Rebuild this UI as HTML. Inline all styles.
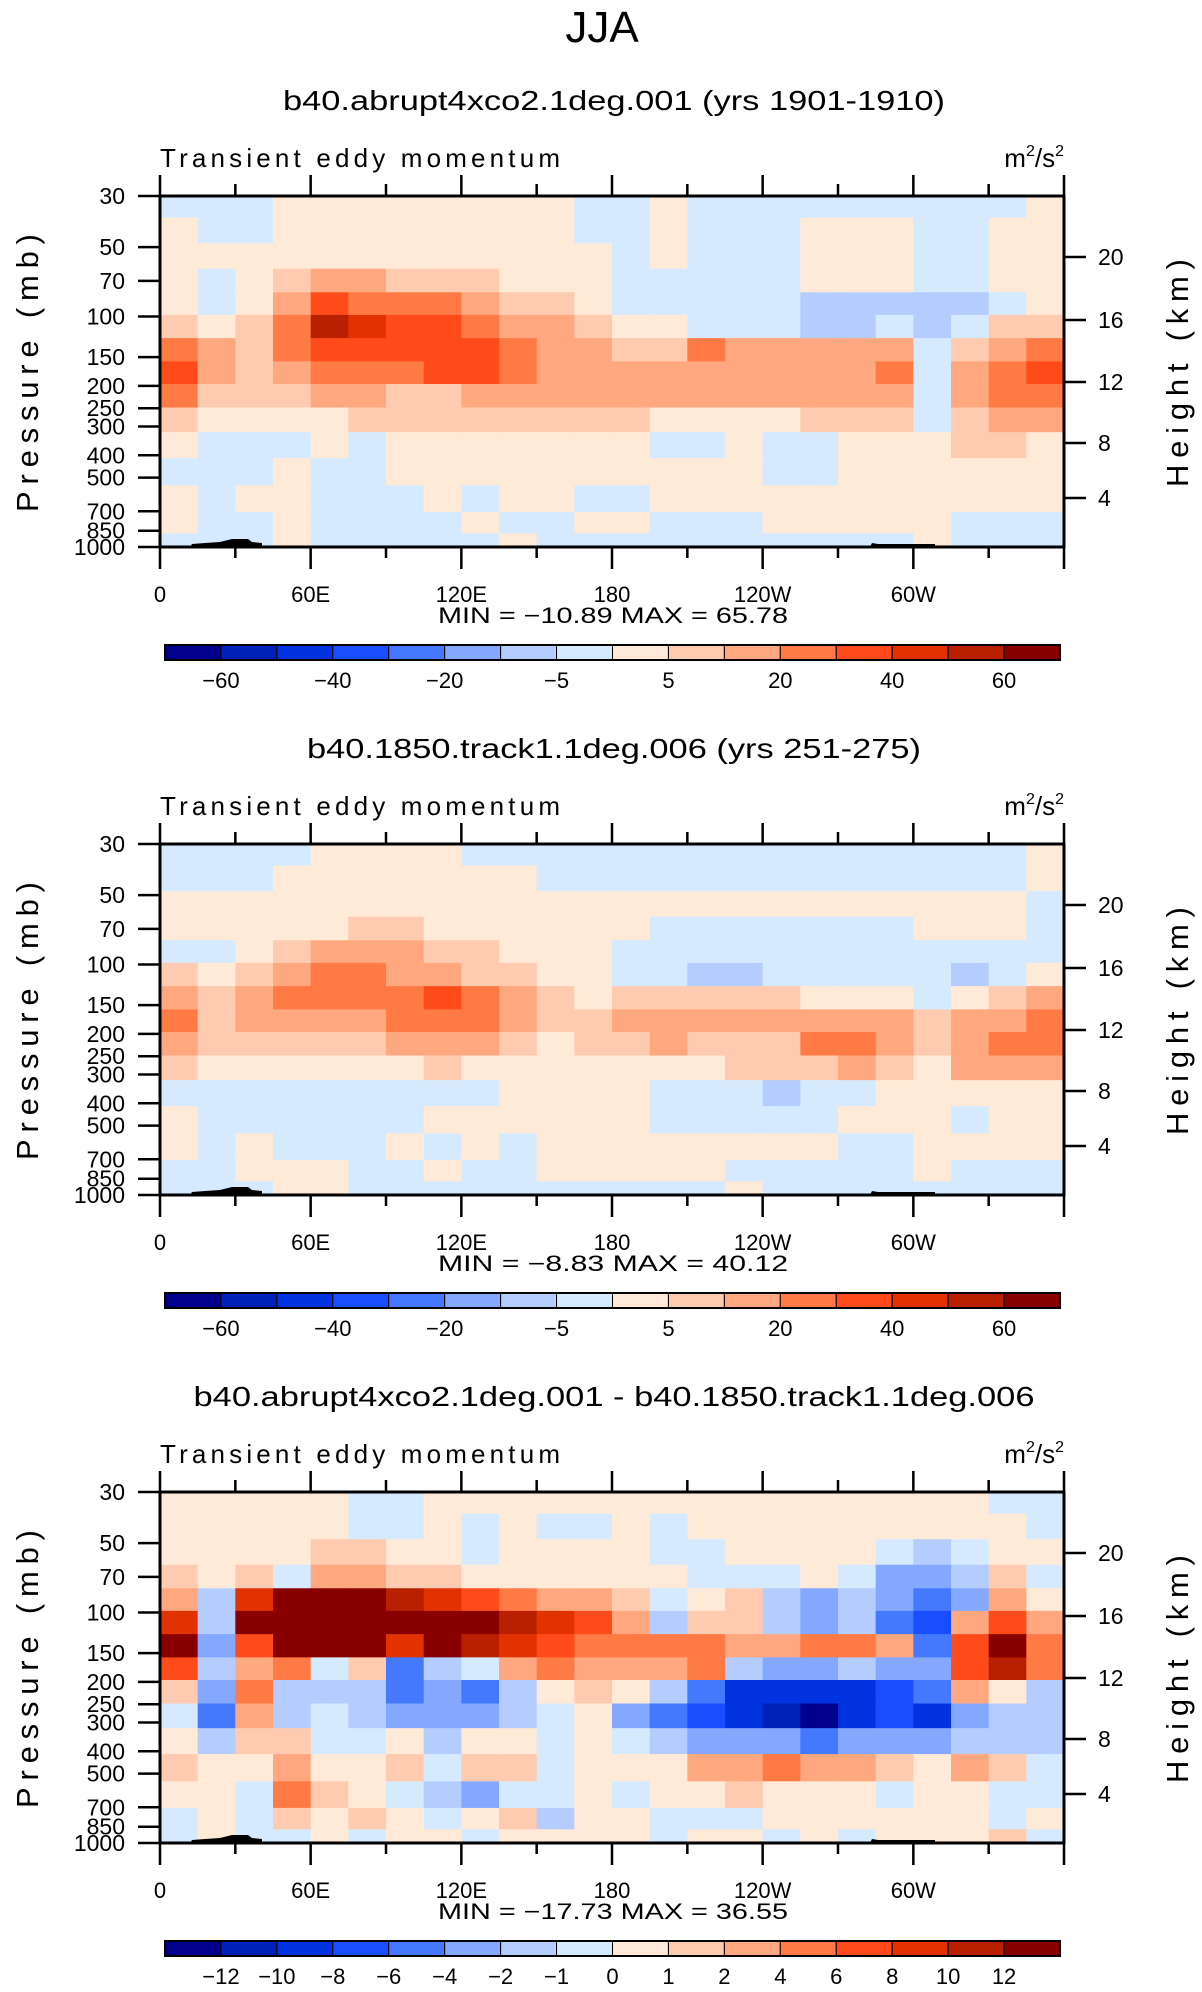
<!DOCTYPE html>
<html><head><meta charset="utf-8"><style>
html,body{margin:0;padding:0;background:#fff;}
svg text{font-family:"Liberation Sans",sans-serif;fill:#000;}
</style></head><body>
<svg id="chart" width="1202" height="1987" viewBox="0 0 1202 1987" xmlns="http://www.w3.org/2000/svg">
<text x="602" y="42" font-size="44" text-anchor="middle" font-weight="300">JJA</text>
</svg>
<script>
const lonCenters=[7.5,22.5,37.5,52.5,67.5,82.5,97.5,112.5,127.5,142.5,157.5,172.5,187.5,202.5,217.5,232.5,247.5,262.5,277.5,292.5,307.5,322.5,337.5,352.5];
const presLevels=[33,42,55,70,88,110,140,175,220,280,360,470,620,800,950];
const pressureTicks=[30,50,70,100,150,200,250,300,400,500,700,850,1000];
const lonTicks=[0,60,120,180,240,300];
const lonTickLabels=["0","60E","120E","180","120W","60W"];
const heightTickLabels=["20","16","12","8","4"];
const levelsAbs=[-60,-50,-40,-30,-20,-10,-5,0,5,10,20,30,40,50,60];
const labelsAbs=["","-60","","-40","","-20","","-5","","5","","20","","40","","60",""];
const levelsDiff=[-12,-10,-8,-6,-4,-2,-1,0,1,2,4,6,8,10,12];
const labelsDiff=["","-12","-10","-8","-6","-4","-2","-1","0","1","2","4","6","8","10","12",""];
const colors=["#00008c","#0021b8","#0033e0","#1a4dff","#4479ff","#84a8ff","#b4ccff","#d6eaff","#ffead8","#ffcbb0","#ffa880","#ff7a45","#ff4b1a","#e23200","#b82000","#880000"];

const data1=[
[-2,-2,-2,2,2,2,2,2,2,2,2,-2,-2,2,-2,-2,-2,-2,-2,-2,-2,-2,-2,2],
[2,-2,-2,2,2,2,2,2,2,2,2,-2,-2,2,-2,-2,-2,2,2,2,-2,-2,2,2],
[2,2,2,2,2,2,2,2,2,2,2,2,-2,2,-2,-2,-2,2,2,2,-2,-2,2,2],
[2,-2,2,7,15,15,7,7,7,2,2,2,-2,-2,-2,-2,-2,2,2,2,-2,-2,2,2],
[2,-2,2,15,35,25,25,25,15,7,7,2,-2,-2,-2,-2,-2,-7,-7,-7,-7,-7,-2,2],
[7,2,7,25,55,45,35,35,25,15,15,7,2,2,-2,-2,-2,-7,-7,-2,-7,-2,7,7],
[25,15,7,25,35,35,35,35,35,25,15,15,7,7,25,15,15,15,15,15,-2,7,15,25],
[35,15,7,15,25,25,25,35,35,25,15,15,15,15,15,15,15,15,15,25,-2,15,25,35],
[25,7,7,7,15,15,7,7,15,15,15,15,15,15,15,15,15,15,15,15,-2,15,25,25],
[7,2,2,2,2,7,7,7,7,7,7,7,7,2,2,2,2,7,7,7,-2,7,15,15],
[2,-2,-2,-2,2,-2,2,2,2,2,2,2,2,-2,-2,2,-2,-2,2,2,2,7,7,2],
[-2,-2,-2,2,-2,-2,2,2,2,2,2,2,2,2,2,2,-2,-2,2,2,2,2,2,2],
[2,-2,2,2,-2,-2,-2,2,-2,2,2,-2,-2,2,2,2,2,2,2,2,2,2,2,2],
[2,-2,-2,2,-2,-2,-2,-2,2,-2,-2,2,2,-2,-2,-2,2,2,2,2,2,-2,-2,-2],
[-2,-2,-2,2,-2,-2,-2,-2,-2,2,-2,-2,-2,-2,-2,-2,-2,-2,-2,-2,2,-2,-2,-2]];
const data2=[
[-2,-2,-2,-2,2,2,2,2,-2,-2,-2,-2,-2,-2,-2,-2,-2,-2,-2,-2,-2,-2,-2,2],
[-2,-2,-2,2,2,2,2,2,2,2,-2,-2,-2,-2,-2,-2,-2,-2,-2,-2,-2,-2,-2,2],
[2,2,2,2,2,2,2,2,2,2,2,2,2,2,2,2,2,2,2,2,2,2,2,-2],
[2,2,2,2,2,7,7,2,2,2,2,2,2,-2,-2,-2,-2,-2,-2,-2,2,2,2,-2],
[-2,-2,2,7,15,15,15,7,7,2,2,2,-2,-2,-2,-2,-2,-2,-2,-2,-2,-2,-2,-2],
[7,2,7,15,25,25,15,15,7,7,2,2,-2,-2,-7,-7,-2,-2,-2,-2,-2,-7,-2,2],
[15,7,15,25,25,25,25,35,25,15,7,2,7,7,7,7,7,2,2,2,-2,2,7,15],
[25,7,15,15,15,15,25,25,25,15,7,7,15,15,15,15,15,15,15,15,7,15,15,25],
[15,7,7,7,7,7,15,15,15,7,2,7,7,15,7,7,7,25,25,15,7,15,25,25],
[7,2,2,2,2,2,2,7,2,2,2,2,2,2,2,7,7,7,15,7,2,15,15,15],
[-2,-2,-2,-2,-2,-2,-2,-2,-2,2,2,2,2,-2,-2,-2,-7,-2,-2,2,2,2,2,2],
[2,-2,-2,-2,-2,-2,-2,2,2,2,2,2,2,-2,-2,-2,-2,-2,2,2,2,-2,2,2],
[2,-2,2,-2,-2,-2,2,-2,2,-2,2,2,2,2,2,2,2,2,-2,-2,2,2,2,2],
[-2,-2,2,2,2,-2,-2,2,-2,-2,2,2,2,2,2,-2,-2,-2,-2,-2,2,-2,-2,-2],
[-2,-2,-2,2,2,-2,-2,-2,-2,-2,-2,-2,-2,-2,-2,2,-2,-2,-2,-2,-2,-2,-2,-2]];
const data3=[
[0.5,0.5,0.5,0.5,0.5,-0.5,-0.5,0.5,0.5,0.5,0.5,0.5,0.5,0.5,0.5,0.5,0.5,0.5,0.5,0.5,0.5,0.5,-0.5,-0.5],
[0.5,0.5,0.5,0.5,0.5,-0.5,-0.5,0.5,-0.5,0.5,-0.5,-0.5,0.5,-0.5,0.5,0.5,0.5,0.5,0.5,0.5,0.5,0.5,0.5,-0.5],
[0.5,0.5,0.5,0.5,1.5,1.5,0.5,0.5,-0.5,0.5,0.5,0.5,0.5,-0.5,-0.5,0.5,0.5,0.5,0.5,-0.5,-1.5,-0.5,0.5,0.5],
[1.5,0.5,1.5,-0.5,3,3,1.5,1.5,0.5,0.5,0.5,0.5,0.5,0.5,-0.5,-0.5,-0.5,0.5,-0.5,-3,-3,-1.5,1.5,-0.5],
[3,-1.5,9,13,13,13,11,9,7,5,3,3,1.5,-0.5,0.5,1.5,-1.5,-3,-1.5,-3,-5,-3,3,0.5],
[9,-1.5,13,13,13,13,13,13,13,11,9,7,3,-1.5,1.5,1.5,-1.5,-3,-1.5,-5,-7,3,7,3],
[13,-3,7,13,13,13,9,13,11,9,7,5,5,5,5,3,3,5,5,3,-5,7,13,5],
[7,-1.5,3,5,-0.5,1.5,-5,-1.5,-0.5,3,5,3,3,3,5,-1.5,-3,-3,-1.5,-3,-3,7,11,5],
[1.5,-3,5,-1.5,-1.5,-1.5,-5,-3,-5,-1.5,0.5,1.5,0.5,-1.5,-5,-9,-9,-9,-9,-7,-5,3,0.5,-1.5],
[-0.5,-5,3,-1.5,-0.5,-1.5,-3,-3,-3,-1.5,-0.5,0.5,-3,-5,-7,-9,-11,-13,-9,-7,-9,-3,-1.5,-1.5],
[0.5,-1.5,1.5,1.5,-0.5,-0.5,0.5,-1.5,0.5,0.5,-0.5,0.5,-0.5,-1.5,-3,-3,-3,-5,-3,-3,-3,-1.5,-1.5,-1.5],
[1.5,0.5,0.5,3,0.5,0.5,1.5,-0.5,1.5,1.5,-0.5,0.5,0.5,0.5,3,3,5,3,3,1.5,0.5,3,1.5,-0.5],
[0.5,0.5,-0.5,5,1.5,0.5,-0.5,-1.5,-3,-0.5,-0.5,0.5,-0.5,0.5,0.5,1.5,0.5,0.5,0.5,-0.5,0.5,0.5,-0.5,-0.5],
[-0.5,0.5,-0.5,1.5,0.5,1.5,0.5,-0.5,0.5,1.5,-1.5,0.5,0.5,-0.5,-0.5,-0.5,0.5,0.5,0.5,0.5,0.5,0.5,-0.5,0.5],
[-0.5,0.5,-0.5,-0.5,0.5,-0.5,0.5,0.5,-0.5,0.5,0.5,0.5,0.5,-0.5,0.5,0.5,-0.5,0.5,-0.5,0.5,0.5,0.5,1.5,-0.5]];

const svg=document.getElementById('chart');
const NS='http://www.w3.org/2000/svg';
function mk(tag,attrs,parent){const e=document.createElementNS(NS,tag);for(const k in attrs)e.setAttribute(k,attrs[k]);(parent||svg).appendChild(e);return e;}
const X0=160,X1=1064,PH=351;
function xOf(lon){return X0+(X1-X0)*lon/360;}
function colorFor(v,lv){let i=0;while(i<lv.length&&v>=lv[i])i++;return colors[i];}

function panel(off,data,lv,cbLabels,title,titleLen,minmax){
  const top=196+off,bot=top+PH;
  const yOf=p=>top+PH*Math.log10(p/30)/Math.log10(1000/30);
  const g=mk('g',{});
  
  
  const t=mk('text',{x:614,y:110+off,'font-size':28,'text-anchor':'middle',textLength:titleLen,lengthAdjust:'spacingAndGlyphs'},g);
  t.textContent=title;
  
  
  const dw=(X1-X0)/lonCenters.length;
  for(let r=0;r<presLevels.length;r++){
    const pTop=r===0?30:Math.sqrt(presLevels[r-1]*presLevels[r]);
    const pBot=r===presLevels.length-1?1000:Math.sqrt(presLevels[r]*presLevels[r+1]);
    for(let c=0;c<lonCenters.length;c++){
      const x=xOf(lonCenters[c])-dw/2;
      const y1=yOf(pTop),y2=yOf(pBot);
      const cell=mk('rect',{x:x.toFixed(2),y:y1.toFixed(2),width:(dw+0.6).toFixed(2),height:(y2-y1+0.6).toFixed(2),fill:colorFor(data[r][c],lv)},g);
      
      
    }
  }
  const topo=mk('path',{d:`M190 ${bot} L192 ${bot-3} L205 ${bot-4} L220 ${bot-5} L232 ${bot-8} L248 ${bot-8} L252 ${bot-5} L262 ${bot-4} L262 ${bot} Z M870 ${bot} L872 ${bot-4} L878 ${bot-3} L935 ${bot-3} L935 ${bot} Z`,fill:'#000'},g);
  
  
  const frame=mk('rect',{x:X0,y:top,width:X1-X0,height:PH,fill:'none',stroke:'#000','stroke-width':3},g);
  
  
  for(let lon=0;lon<=360;lon+=30){
    const maj=lon%60===0,x=xOf(lon);
    mk('line',{x1:x,y1:top,x2:x,y2:top-(maj?21:12),stroke:'#000','stroke-width':2.5},g);
    mk('line',{x1:x,y1:bot,x2:x,y2:bot+(maj?22:11),stroke:'#000','stroke-width':2.5},g);
  }
  lonTicks.forEach((lon,i)=>{
    const l=mk('text',{x:xOf(lon),y:602+off,'font-size':22,'text-anchor':'middle'},g);
    l.textContent=lonTickLabels[i];
    
    
  });
  pressureTicks.forEach(p=>{
    const y=yOf(p);
    mk('line',{x1:X0-22,y1:y,x2:X0,y2:y,stroke:'#000','stroke-width':2.5},g);
    const l=mk('text',{x:125,y:y+8,'font-size':23,'text-anchor':'end'},g);
    l.textContent=String(p);
    
    
  });
  const kmY=[61,124,186,247,302];
  heightTickLabels.forEach((s,i)=>{
    const y=top+kmY[i];
    mk('line',{x1:X1,y1:y,x2:X1+22,y2:y,stroke:'#000','stroke-width':2.5},g);
    const l=mk('text',{x:1098,y:y+8,'font-size':23},g);
    l.textContent=s;
    
    
  });
  const pl=mk('text',{x:0,y:0,'font-size':31,'text-anchor':'middle',textLength:278,lengthAdjust:'spacing',transform:`translate(38 ${373+off}) rotate(-90)`},g);
  pl.textContent='Pressure  (mb)';
  
  
  const hl=mk('text',{x:0,y:0,'font-size':31,'text-anchor':'middle',textLength:228,lengthAdjust:'spacing',transform:`translate(1188 ${373+off}) rotate(-90)`},g);
  hl.textContent='Height  (km)';
  
  
  const vt=mk('text',{x:160,y:167+off,'font-size':26,textLength:400,lengthAdjust:'spacing'},g);
  vt.textContent='Transient eddy momentum';
  
  
  const un=mk('text',{x:1064,y:167+off,'font-size':26,'text-anchor':'end'},g);
  un.innerHTML='m<tspan font-size="16" dy="-11">2</tspan><tspan dy="11">/s</tspan><tspan font-size="16" dy="-11">2</tspan>';
  
  
  const mm=mk('text',{x:613,y:623+off,'font-size':22,'text-anchor':'middle',textLength:350,lengthAdjust:'spacingAndGlyphs','xml:space':'preserve'},g);
  mm.textContent=minmax;
  
  
  const cbx0=165,cbx1=1060,bw=(cbx1-cbx0)/16;
  for(let i=0;i<16;i++){
    const b=mk('rect',{x:cbx0+i*bw,y:645+off,width:bw,height:15,fill:colors[i],stroke:'#000','stroke-width':1},g);
    
    
  }
  mk('rect',{x:cbx0,y:645+off,width:cbx1-cbx0,height:15,fill:'none',stroke:'#000','stroke-width':2},g);
  cbLabels.forEach((s,i)=>{
    if(!s)return;
    const l=mk('text',{x:cbx0+i*bw,y:688+off,'font-size':22,'text-anchor':'middle'},g);
    l.textContent=s.replace('-','\u2212');
    
    
  });
}
panel(0,data1,levelsAbs,labelsAbs,'b40.abrupt4xco2.1deg.001 (yrs 1901-1910)',662,'MIN =  \u221210.89   MAX =   65.78');
panel(648,data2,levelsAbs,labelsAbs,'b40.1850.track1.1deg.006 (yrs 251-275)',614,'MIN =   \u22128.83   MAX =   40.12');
panel(1296,data3,levelsDiff,labelsDiff,'b40.abrupt4xco2.1deg.001 - b40.1850.track1.1deg.006',841,'MIN =  \u221217.73   MAX =   36.55');
</script>
</body></html>
